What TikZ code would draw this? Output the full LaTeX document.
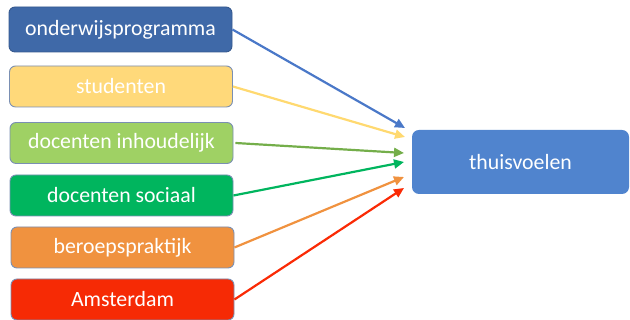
\documentclass[tikz,border=0pt]{standalone}
\usepackage{fontspec}
\setmainfont{Carlito}
\usetikzlibrary{arrows.meta}
\definecolor{cOnd}{HTML}{3F69A8}
\definecolor{cStu}{HTML}{FFD97A}
\definecolor{cDoi}{HTML}{9FD164}
\definecolor{cDos}{HTML}{00B55E}
\definecolor{cBer}{HTML}{F0923F}
\definecolor{cAms}{HTML}{F62A05}
\definecolor{cThu}{HTML}{5084CE}
\definecolor{cBord}{HTML}{7A8FB3}
\definecolor{aBlue}{HTML}{4A78C8}
\definecolor{aYel}{HTML}{FFD970}
\definecolor{aLgr}{HTML}{74AE4A}
\definecolor{aGrn}{HTML}{00B55E}
\definecolor{aOra}{HTML}{F0923F}
\definecolor{aRed}{HTML}{FA2A05}
\tikzset{
  x=1pt,y=1pt,
  srcbox/.style={draw=cBord, line width=0.9pt, rounded corners=6pt, minimum width=223pt, minimum height=41pt, text=white, font=\fontsize{21.8}{24}\selectfont, inner sep=0pt},
  conn/.style={line width=2.2pt, -{Triangle[length=10pt,width=9pt]}}
}
\begin{document}
\begin{tikzpicture}
\useasboundingbox (0,0) rectangle (630,320);
\node[srcbox, fill=cOnd, draw=cOnd!85!black, minimum height=45pt] (ond) at (120.5,290.5) {onderwijsprogramma};
\node[srcbox, fill=cStu] (stu) at (121,233.5) {studenten};
\node[srcbox, fill=cDoi] (doi) at (121.5,177) {docenten inhoudelijk};
\node[srcbox, fill=cDos] (dos) at (121.5,124.5) {docenten sociaal};
\node[srcbox, fill=cBer] (ber) at (122.5,72.5) {beroepspraktijk};
\node[srcbox, fill=cAms] (ams) at (122.5,20.5) {Amsterdam};
\node[rounded corners=7pt, fill=cThu, minimum width=217pt, minimum height=64pt, text=white, font=\fontsize{21.8}{24}\selectfont, inner sep=0pt] (thu) at (520.5,158) {thuisvoelen};
\coordinate (t1) at (405,192);
\coordinate (t2) at (405,183);
\coordinate (t3) at (404,167);
\coordinate (t4) at (404,158);
\coordinate (t5) at (404,143);
\coordinate (t6) at (404,132);
\draw[conn, aBlue] (ond.east) -- (t1);
\draw[conn, aYel] (stu.east) -- (t2);
\draw[conn, aLgr] ([xshift=2pt]doi.east) -- (t3);
\draw[conn, aGrn] (dos.east) -- (t4);
\draw[conn, aOra] (ber.east) -- (t5);
\draw[conn, aRed] (ams.east) -- (t6);
\end{tikzpicture}
\end{document}
